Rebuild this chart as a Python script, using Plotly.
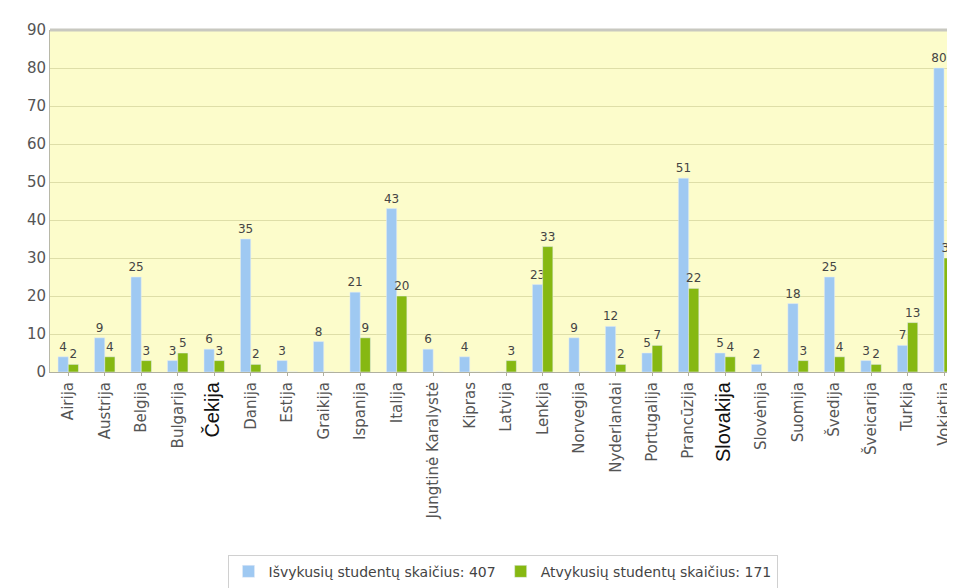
import plotly.graph_objects as go

# Šalys
salys = ['Airija', 'Austrija', 'Belgija', 'Bulgarija', 'Čekija', 'Danija', 'Estija',
         'Graikija', 'Ispanija', 'Italija', 'Jungtinė Karalystė', 'Kipras', 'Latvija',
         'Lenkija', 'Norvegija', 'Nyderlandai', 'Portugalija', 'Prancūzija', 'Slovakija',
         'Slovėnija', 'Suomija', 'Švedija', 'Šveicarija', 'Turkija', 'Vokietija']

isvykusiu = [4, 9, 25, 3, 6, 35, 3, 8, 21, 43, 6, 4, 0, 23, 9, 12, 5, 51, 5, 2, 18, 25, 3, 7, 80]
atvykusiu = [2, 4, 3, 5, 3, 2, 0, 0, 9, 20, 0, 0, 3, 33, 0, 2, 7, 22, 4, 0, 3, 4, 2, 13, 30]

y_ticks = [0, 10, 20, 30, 40, 50, 60, 70, 80, 90]

FONT = 'DejaVu Sans, Verdana, sans-serif'

# dvi etiketės nuotraukoje įrašytos kitu šriftu
ticktext = []
for s in salys:
    if s in ('Čekija', 'Slovakija'):
        ticktext.append('<span style="font-family:Liberation Sans;font-size:20px;color:#111">'
                        + s + '</span>')
    else:
        ticktext.append(s)

fig = go.Figure()
fig.add_trace(go.Bar(
    x=salys, y=isvykusiu,
    name='Išvykusių studentų skaičius: ' + str(sum(isvykusiu)),
    marker=dict(color='#9FC9F2'),
    text=[str(v) if v else '' for v in isvykusiu],
    textposition='outside', textfont=dict(size=12, color='#444', family=FONT),
    constraintext='none', cliponaxis=False,
))
fig.add_trace(go.Bar(
    x=salys, y=atvykusiu,
    name='Atvykusių studentų skaičius: ' + str(sum(atvykusiu)),
    marker=dict(color='#86B812'),
    text=[str(v) if v else '' for v in atvykusiu],
    textposition='outside', textfont=dict(size=12, color='#444', family=FONT),
    constraintext='none', cliponaxis=False,
))

# puslapio body turi 8px paraštę, todėl figūra 947x580
fig.update_layout(
    width=947, height=580,
    margin=dict(l=42, r=0, t=22, b=216, autoexpand=False),
    paper_bgcolor='white',
    plot_bgcolor='#FCFCCB',
    font=dict(family=FONT, size=12, color='#444'),
    barmode='group',
    bargap=0.44,
    bargroupgap=0.0,
    showlegend=True,
    legend=dict(orientation='h', x=0.5, xanchor='center', yref='container', y=0.028,
                yanchor='middle',
                bordercolor='#d0d0d0', borderwidth=1, font=dict(size=14, color='#444'),
                itemwidth=30, traceorder='normal'),
    shapes=[dict(type='line', xref='paper', yref='paper', x0=0, x1=1, y0=1, y1=1,
                 line=dict(color='#c8c8c0', width=3))],
)
fig.update_xaxes(
    tickmode='array', tickvals=salys, ticktext=ticktext,
    tickangle=-90, range=[-0.5, 24.3], automargin=False,
    showline=True, linecolor='#b0b0a0', linewidth=1,
    ticks='outside', ticklen=3, tickcolor='#b0b0a0',
    tickfont=dict(size=15, color='#555'),
    showgrid=False,
)
fig.update_yaxes(
    range=[0, 90], tickvals=y_ticks, automargin=False,
    showgrid=True, gridcolor='#DEDEA8', gridwidth=1,
    showline=True, linecolor='#b8b8a8', linewidth=1,
    tickfont=dict(size=15, color='#555'),
    zeroline=False,
)

fig.write_html("out.html")
